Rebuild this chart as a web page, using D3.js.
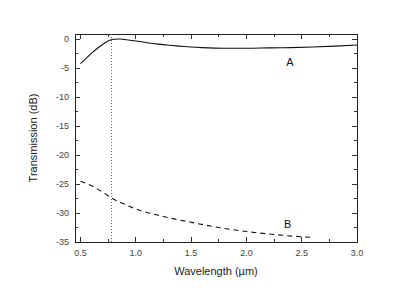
<!DOCTYPE html>
<html><head><meta charset="utf-8">
<script src="https://cdn.jsdelivr.net/npm/d3@7"></script>
<style>body{margin:0;background:#fff}svg{display:block}text{font-family:"Liberation Sans",Arial,sans-serif}</style>
</head><body>
<svg id="c" width="415" height="291"></svg>
<script>
const aWl = [0.5,0.55,0.6,0.65,0.7,0.75,0.8,0.85,0.9,1.0,1.1,1.2,1.3,1.4,1.5,1.6,1.8,2.0,2.2,2.4,2.6,2.8,3.0];
const aDb = [-4.2,-3.3,-2.4,-1.6,-0.9,-0.3,0.0,0.05,-0.05,-0.3,-0.6,-0.85,-1.05,-1.2,-1.35,-1.45,-1.55,-1.55,-1.5,-1.45,-1.35,-1.2,-1.0];
const bWl = [0.5,0.6,0.7,0.78,0.9,1.0,1.25,1.5,1.75,2.0,2.25,2.5,2.6];
const bDb = [-24.5,-25.3,-26.4,-27.4,-28.5,-29.3,-30.6,-31.6,-32.5,-33.2,-33.7,-34.1,-34.2];
const xTicks = [0.5,1.0,1.5,2.0,2.5,3.0];
const yTicks = [0,-5,-10,-15,-20,-25,-30,-35];
const markerWl = 0.78;

const svg = d3.select("#c");
const L=75,R=357,T=34,B=242;
const x = d3.scaleLinear().domain([0.45,3.0]).range([L,R]);
const y = d3.scaleLinear().domain([-35,0.9]).range([B,T]);
const tc = "#333";
const xMinor = d3.range(0.75,3.0,0.5);
const yMinor = d3.range(-32.5,0.1,5);

function ticksIn(g, scale, vals, len, orient){
  vals.forEach(v=>{
    if(orient==="b") g.append("line").attr("x1",scale(v)).attr("x2",scale(v)).attr("y1",B).attr("y2",B-len);
    if(orient==="t") g.append("line").attr("x1",scale(v)).attr("x2",scale(v)).attr("y1",T).attr("y2",T+len);
    if(orient==="l") g.append("line").attr("y1",scale(v)).attr("y2",scale(v)).attr("x1",L).attr("x2",L+len);
    if(orient==="r") g.append("line").attr("y1",scale(v)).attr("y2",scale(v)).attr("x1",R).attr("x2",R-len);
  });
}
const tg = svg.append("g").attr("stroke",tc).attr("stroke-width",1).attr("shape-rendering","crispEdges");
ticksIn(tg,x,xTicks.filter(v=>v<3),5,"b");
ticksIn(tg,x,xMinor,3,"b");
ticksIn(tg,x,xTicks.filter(v=>v<3),5,"t");
ticksIn(tg,x,xMinor,3,"t");
ticksIn(tg,y,yTicks,5,"l");
ticksIn(tg,y,yMinor,3,"l");
ticksIn(tg,y,yTicks,5,"r");
ticksIn(tg,y,yMinor,3,"r");

svg.append("rect").attr("x",L+0.5).attr("y",T+0.5).attr("width",R-L).attr("height",B-T)
  .attr("fill","none").attr("stroke","#222").attr("stroke-width",1);

svg.append("line").attr("x1",Math.round(x(markerWl))+0.5).attr("x2",Math.round(x(markerWl))+0.5)
  .attr("y1",y(0.9)).attr("y2",B).attr("stroke","#666").attr("stroke-width",1).attr("stroke-dasharray","1,2");

const line = d3.line().curve(d3.curveMonotoneX);
svg.append("path").attr("d",line(aWl.map((w,i)=>[x(w),y(aDb[i])])))
  .attr("fill","none").attr("stroke","#111").attr("stroke-width",1.1);
svg.append("path").attr("d",line(bWl.map((w,i)=>[x(w),y(bDb[i])])))
  .attr("fill","none").attr("stroke","#111").attr("stroke-width",1.1).attr("stroke-dasharray","5,4");

svg.append("g").selectAll("text").data(xTicks).join("text")
  .attr("x",d=>x(d)).attr("y",B+14).attr("text-anchor","middle").attr("font-size",9).attr("fill","#444")
  .text(d=>d.toFixed(1));
svg.append("g").selectAll("text").data(yTicks).join("text")
  .attr("x",L-6).attr("y",d=>y(d)+3).attr("text-anchor","end").attr("font-size",9).attr("fill","#444")
  .text(d=>d);

svg.append("text").attr("x",(L+R)/2).attr("y",275).attr("text-anchor","middle").attr("font-size",11).attr("fill","#222")
  .text("Wavelength (\u00b5m)");
svg.append("text").attr("transform",`translate(37,${(T+B)/2}) rotate(-90)`).attr("text-anchor","middle").attr("font-size",11).attr("fill","#222")
  .text("Transmission (dB)");

svg.append("text").attr("x",x(2.36)).attr("y",y(-4.6)).attr("font-size",11).attr("fill","#111").text("A");
svg.append("text").attr("x",x(2.34)).attr("y",y(-32.6)).attr("font-size",11).attr("fill","#111").text("B");
</script>
</body></html>
